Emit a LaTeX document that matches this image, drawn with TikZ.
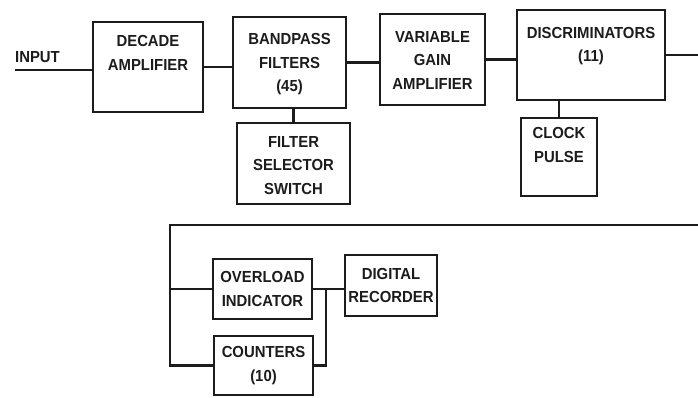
\documentclass[tikz,border=0pt]{standalone}
\usepackage{fontspec}
\usepackage{xcolor}
\usepackage{tikz}
\setmainfont{Liberation Sans}[FakeStretch=0.93]
\definecolor{inkblack}{HTML}{1C1C1C}
\definecolor{paperwhite}{HTML}{FFFFFF}

\tikzset{
  blk/.style={draw=inkblack, line width=1.2pt, inner sep=0pt},
  blktext/.style={align=center, inner sep=0pt, text=inkblack,
    font=\fontsize{16}{23.5}\selectfont\bfseries},
  wire/.style={draw=inkblack, line width=2.4pt}
}

\begin{document}
\begin{tikzpicture}[x=1pt, y=-1pt]
  \useasboundingbox[fill=paperwhite] (0,0) rectangle (698,397);

  \node[blk, minimum width=110pt, minimum height=90pt,
    label={[blktext, anchor=north, yshift=-14pt]north:DECADE\\AMPLIFIER}]
    (decamp) at (148,67) {};
  \node[blk, minimum width=113pt, minimum height=91pt,
    label={[blktext, anchor=north, yshift=-17pt]north:BANDPASS\\FILTERS\\(45)}]
    (bpfilt) at (289.5,62.5) {};
  \node[blk, minimum width=113pt, minimum height=81pt,
    label={[blktext, anchor=north, yshift=-13.5pt]north:FILTER\\SELECTOR\\SWITCH}]
    (fsel) at (293.5,163.5) {};
  \node[blk, minimum width=105pt, minimum height=91pt,
    label={[blktext, anchor=north, yshift=-17.5pt]north:VARIABLE\\GAIN\\AMPLIFIER}]
    (vgamp) at (432.5,59.5) {};
  \node[blk, minimum width=148pt, minimum height=90pt,
    label={[blktext, anchor=north, yshift=-17.5pt]north:DISCRIMINATORS\\(11)}]
    (discr) at (591,55) {};
  \node[blk, minimum width=76pt, minimum height=78pt,
    label={[blktext, anchor=north, yshift=-10pt]north:CLOCK\\PULSE}]
    (clock) at (559,157) {};

  \node[blk, blktext, minimum width=99pt, minimum height=60pt]
    (ovload) at (262.5,289) {OVERLOAD\\INDICATOR};
  \node[blk, blktext, minimum width=99pt, minimum height=59pt]
    (counts) at (263.5,365.5) {COUNTERS\\(10)};
  \node[blk, blktext, minimum width=92pt, minimum height=61pt]
    (digrec) at (391,285.5) {DIGITAL\\RECORDER};

  \node[blktext] (inlbl) at (37.5,57) {INPUT};
  \coordinate (infeed) at (15,70);
  \coordinate (discout) at (698,55);
  \coordinate (retfeed) at (698,225);
  \coordinate (bus) at (170,225);
  \coordinate (recjoin) at (326,289);

  \draw[wire] (infeed) -- (infeed -| decamp.west);
  \draw[wire] (decamp.east) -- (decamp.east -| bpfilt.west);
  \draw[wire] (bpfilt.east) -- (bpfilt.east -| vgamp.west);
  \draw[wire] (vgamp.east) -- (vgamp.east -| discr.west);
  \draw[wire] (discr.east |- discout) -- (discout);
  \draw[wire] (fsel.north) -- (fsel.north |- bpfilt.south);
  \draw[wire] (clock.north) -- (clock.north |- discr.south);
  \draw[wire] (retfeed) -- (bus) |- (counts.west);
  \draw[wire] (bus |- ovload.west) -- (ovload.west);
  \draw[wire] (ovload.east) -- (ovload.east -| digrec.west);
  \draw[wire] (counts.east) -| (recjoin);
\end{tikzpicture}
\end{document}
